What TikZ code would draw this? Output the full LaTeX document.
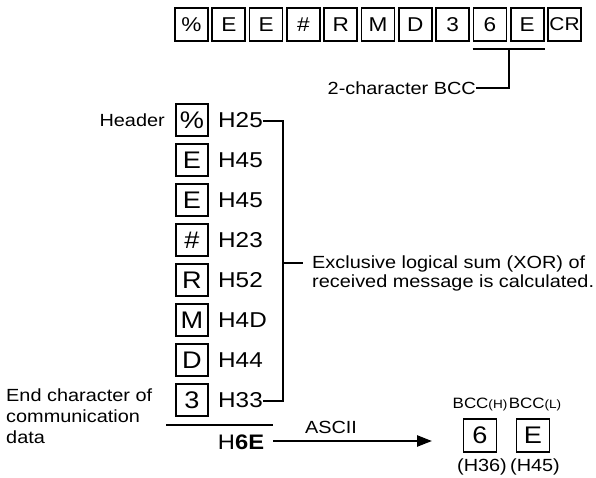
\documentclass[tikz,border=0pt]{standalone}
\usepackage{fontspec}
\setmainfont{Liberation Sans}[FakeStretch=1.13]
\usetikzlibrary{arrows.meta}
\begin{document}
\begin{tikzpicture}[x=1pt,y=-1pt,
  topbox/.style={draw, line width=1.7pt, minimum width=33pt, minimum height=33pt, inner sep=0pt, font=\fontsize{20}{22}\selectfont},
  vbox/.style={draw, line width=1.7pt, minimum width=32pt, minimum height=32pt, inner sep=0pt, font=\fontsize{24}{26}\selectfont},
  hlab/.style={anchor=west, inner sep=0pt, font=\fontsize{21.5}{23}\selectfont},
  txt/.style={inner sep=0pt, font=\fontsize{17.6}{21}\selectfont},
  small/.style={inner sep=0pt, font=\fontsize{15}{16}\selectfont},
  conn/.style={line width=1.2pt},
  heavy/.style={line width=2.4pt}]
\useasboundingbox (0,0) rectangle (596,478);
% top row
\node[topbox] (t0) at ({191.5+37.3*0},24.5) {\%};
\node[topbox] (t1) at ({191.5+37.3*1},24.5) {E};
\node[topbox] (t2) at ({191.5+37.3*2},24.5) {E};
\node[topbox] (t3) at ({191.5+37.3*3},24.5) {\#};
\node[topbox] (t4) at ({191.5+37.3*4},24.5) {R};
\node[topbox] (t5) at ({191.5+37.3*5},24.5) {M};
\node[topbox] (t6) at ({191.5+37.3*6},24.5) {D};
\node[topbox] (t7) at ({191.5+37.3*7},24.5) {3};
\node[topbox] (t8) at ({191.5+37.3*8},24.5) {6};
\node[topbox] (t9) at ({191.5+37.3*9},24.5) {E};
\node[topbox, font=\fontsize{18.5}{20}\selectfont] (t10) at ({191.5+37.3*10},24.5) {CR};
% bracket
\draw[heavy] ([yshift=-7pt]t8.south west) -- ([yshift=-7pt]t9.south east);
\coordinate (bm) at (509,48);
\node[txt, anchor=east] (bcc) at (476,88) {2-character BCC};
\draw[conn] (bm) |- (bcc.east);
% vertical list
\node[txt, anchor=east] (hdr) at (165,120) {Header};
\node[vbox] (v0) at (192,120) {\%};
\node[vbox] (v1) at (192,160) {E};
\node[vbox] (v2) at (192,200) {E};
\node[vbox] (v3) at (192,240) {\#};
\node[vbox] (v4) at (192,280) {R};
\node[vbox] (v5) at (192,320) {M};
\node[vbox] (v6) at (192,360) {D};
\node[vbox] (v7) at (192,400) {3};
\node[hlab] (h0) at (218,120) {H25};
\node[hlab] (h1) at (218,160) {H45};
\node[hlab] (h2) at (218,200) {H45};
\node[hlab] (h3) at (218,240) {H23};
\node[hlab] (h4) at (218,280) {H52};
\node[hlab] (h5) at (218,320) {H4D};
\node[hlab] (h6) at (218,360) {H44};
\node[hlab] (h7) at (218,400) {H33};
\coordinate (j0) at (283,121);
\coordinate (j7) at (283,401);
\coordinate (jm) at (283,263);
\draw[conn] (h0.east |- j0) -- (j0) -- (j7) -- (h7.east |- j7);
\node[txt, anchor=base west, inner xsep=9pt] (xor1) at (303,268) {Exclusive logical sum (XOR) of};
\node[txt, anchor=base west, inner xsep=9pt] (xor2) at (303,287) {received message is calculated.};
\draw[conn] (jm) -- (jm -| xor1.west);
% sum
\coordinate (s1) at (166,425);
\coordinate (s2) at (273,425);
\draw[conn] (s1) -- (s2);
\node[txt, anchor=north west, align=left] (endc) at (6,389) {End character of\\communication\\data};
\node[inner sep=0pt, font=\fontsize{21}{22}\selectfont] (sum) at (241,442) {H\textbf{6E}};
\node[vbox, minimum width=33pt, minimum height=33pt] (b6) at (480,435.5) {6};
\node[vbox, minimum width=33pt, minimum height=33pt] (bE) at (533,435.5) {E};
\coordinate (a0) at (273,441);
\coordinate (a1) at (432,441);
\draw[heavy, -{Triangle[length=15pt,width=11pt]}] (a0) -- (a1);
\node[txt] (ascii) at (331,427) {ASCII};
\node[small] (lh) at (480,405) {BCC{\fontsize{12}{12}\selectfont(H)}};
\node[small] (ll) at (535,405) {BCC{\fontsize{12}{12}\selectfont(L)}};
\node[txt] (c36) at (482,467) {(H36)};
\node[txt] (c45) at (535,467) {(H45)};
\end{tikzpicture}
\end{document}
